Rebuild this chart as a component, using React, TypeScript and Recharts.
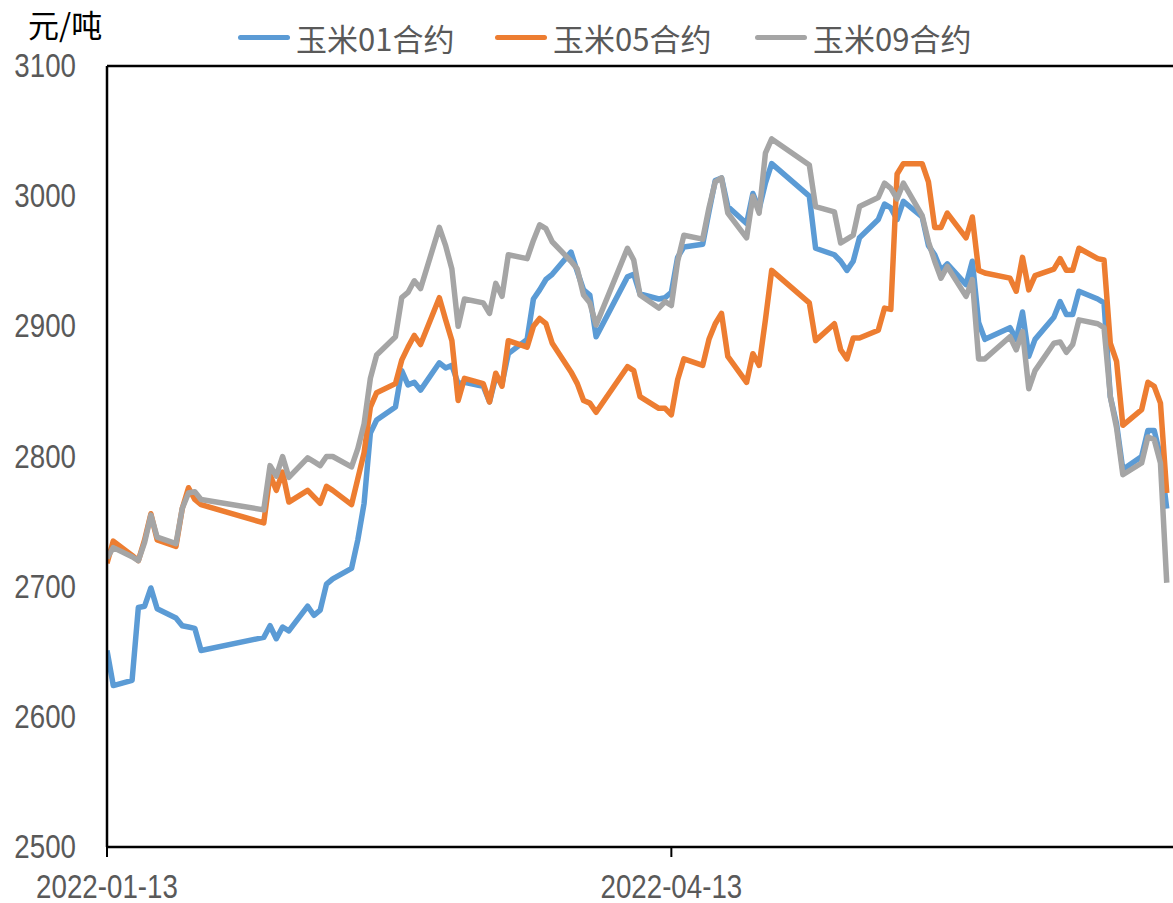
import React from 'react';
import { LineChart, Line, XAxis, YAxis, ReferenceLine } from 'recharts';

// trading days shown on the chart
const DATES = [
  '2022-01-13', '2022-01-14', '2022-01-17', '2022-01-18', '2022-01-19', '2022-01-20', '2022-01-21',
  '2022-01-24', '2022-01-25', '2022-01-26', '2022-01-27', '2022-01-28',
  '2022-02-07', '2022-02-08', '2022-02-09', '2022-02-10', '2022-02-11',
  '2022-02-14', '2022-02-15', '2022-02-16', '2022-02-17', '2022-02-18',
  '2022-02-21', '2022-02-22', '2022-02-23', '2022-02-24', '2022-02-25',
  '2022-02-28', '2022-03-01', '2022-03-02', '2022-03-03', '2022-03-04',
  '2022-03-07', '2022-03-08', '2022-03-09', '2022-03-10', '2022-03-11',
  '2022-03-14', '2022-03-15', '2022-03-16', '2022-03-17', '2022-03-18',
  '2022-03-21', '2022-03-22', '2022-03-23', '2022-03-24', '2022-03-25',
  '2022-03-28', '2022-03-29', '2022-03-30', '2022-03-31', '2022-04-01',
  '2022-04-06', '2022-04-07', '2022-04-08',
  '2022-04-11', '2022-04-12', '2022-04-13', '2022-04-14', '2022-04-15',
  '2022-04-18', '2022-04-19', '2022-04-20', '2022-04-21', '2022-04-22',
  '2022-04-25', '2022-04-26', '2022-04-27', '2022-04-28', '2022-04-29',
  '2022-05-05', '2022-05-06',
  '2022-05-09', '2022-05-10', '2022-05-11', '2022-05-12', '2022-05-13',
  '2022-05-16', '2022-05-17', '2022-05-18', '2022-05-19', '2022-05-20',
  '2022-05-23', '2022-05-24', '2022-05-25', '2022-05-26', '2022-05-27',
  '2022-05-30', '2022-05-31', '2022-06-01', '2022-06-02',
  '2022-06-06', '2022-06-07', '2022-06-08', '2022-06-09', '2022-06-10',
  '2022-06-13', '2022-06-14', '2022-06-15', '2022-06-16', '2022-06-17',
  '2022-06-20', '2022-06-21', '2022-06-22', '2022-06-23', '2022-06-24',
  '2022-06-27', '2022-06-28', '2022-06-29', '2022-06-30', '2022-07-01',
];

const CORN01 = [
  2651, 2624, 2628, 2684, 2685, 2699, 2683,
  2676, 2670, 2669, 2668, 2651,
  2661, 2670, 2660, 2669, 2666,
  2685, 2678, 2682, 2702, 2706,
  2714, 2736, 2764, 2818, 2828,
  2838, 2866, 2855, 2857, 2851,
  2872, 2868, 2870, 2856, 2857,
  2854, 2842, 2861, 2856, 2879,
  2890, 2921, 2928, 2936, 2940,
  2957, 2942, 2928, 2924, 2892,
  2938, 2940, 2925,
  2921, 2922, 2926, 2953, 2961,
  2963, 2988, 3012, 3014, 2992,
  2979, 3002, 2990, 3010, 3025,
  3000, 2960,
  2955, 2950, 2943, 2950, 2968,
  2982, 2994, 2991, 2982, 2996,
  2984, 2962, 2955, 2943, 2948,
  2932, 2950, 2903, 2890,
  2899, 2890, 2911, 2877, 2890,
  2907, 2919, 2909, 2909, 2927,
  2921, 2918, 2846, 2825, 2790,
  2800, 2820, 2820, 2800, 2760,
];

const CORN05 = [
  2718, 2735, 2724, 2720, 2736, 2756, 2736,
  2731, 2760, 2776, 2767, 2763,
  2749, 2786, 2774, 2788, 2765,
  2774, 2769, 2764, 2777, 2774,
  2763, 2783, 2803, 2838, 2849,
  2856, 2874, 2884, 2893, 2886,
  2922, 2905, 2889, 2843, 2860,
  2856, 2842, 2864, 2854, 2889,
  2884, 2900, 2906, 2902, 2887,
  2865, 2856, 2843, 2841, 2834,
  2869, 2866, 2846,
  2837, 2837, 2832, 2859, 2875,
  2870, 2890, 2902, 2910, 2877,
  2857, 2879, 2870, 2905, 2943,
  2918, 2889,
  2902, 2882, 2875, 2891, 2891,
  2897, 2914, 2913, 3017, 3025,
  3025, 3011, 2976, 2976, 2987,
  2968, 2984, 2943, 2941,
  2937, 2927, 2953, 2928, 2939,
  2944, 2952, 2943, 2943, 2960,
  2952, 2951, 2887, 2873, 2824,
  2836, 2857, 2854, 2841, 2772,
];

const CORN09 = [
  2722, 2730, 2723, 2720, 2734, 2755, 2738,
  2733, 2760, 2772, 2773, 2767,
  2759, 2793, 2785, 2800, 2784,
  2799, 2796, 2793, 2800, 2800,
  2792, 2806, 2825, 2860, 2878,
  2892, 2922, 2926, 2935, 2929,
  2976, 2962, 2944, 2900, 2921,
  2918, 2910, 2933, 2923, 2955,
  2952, 2966, 2978, 2975, 2965,
  2950, 2944, 2924, 2918, 2901,
  2960, 2951, 2924,
  2914, 2919, 2916, 2950, 2970,
  2967, 2991, 3011, 3014, 2987,
  2968, 3000, 2987, 3033, 3044,
  3024, 2992,
  2988, 2964, 2967, 2970, 2992,
  2999, 3010, 3006, 2998, 3010,
  2985, 2965, 2950, 2937, 2946,
  2923, 2936, 2875, 2875,
  2892, 2882, 2896, 2852, 2866,
  2887, 2888, 2880, 2886, 2905,
  2902, 2899, 2846, 2822, 2786,
  2795, 2815, 2813, 2795, 2703,
];

const X_TICK_LABELS = ['2022-01-13', '2022-04-13'];
const Y_TICKS = [2500, 2600, 2700, 2800, 2900, 3000, 3100];

const SERIES = [
  { key: 'c01', name: '玉米01合约', color: '#5B9BD5', left: 238 },
  { key: 'c05', name: '玉米05合约', color: '#ED7D31', left: 495 },
  { key: 'c09', name: '玉米09合约', color: '#A5A5A5', left: 755 },
];

const DAY = 86400000;
const START = Date.parse(DATES[0]);
const toDay = (s: string) => Math.round((Date.parse(s) - START) / DAY);

const data = DATES.map((d, i) => ({
  x: toDay(d),
  c01: CORN01[i],
  c05: CORN05[i],
  c09: CORN09[i],
}));

const xTicks = X_TICK_LABELS.map(toDay);
const labelFor = (v: number) => {
  const i = xTicks.indexOf(v);
  return i >= 0 ? X_TICK_LABELS[i] : '';
};

const NUM_FONT = "'Liberation Sans', Arial, sans-serif";
const CJK_FONT = "'Noto Sans CJK SC', 'Noto Sans', sans-serif";
const SQUEEZE = 0.84;

// Excel's narrow digits: draw the labels horizontally squeezed
const YTick = (props: any) => {
  const { x, y, payload } = props;
  return (
    <g transform={`translate(${x},${y}) scale(${SQUEEZE},1)`}>
      <text textAnchor="end" dy={11} fontFamily={NUM_FONT} fontSize={33} fill="#595959">
        {payload.value}
      </text>
    </g>
  );
};

const XTick = (props: any) => {
  const { x, payload } = props;
  return (
    <g transform={`translate(${x},898) scale(${SQUEEZE},1)`}>
      <text textAnchor="middle" fontFamily={NUM_FONT} fontSize={33} fill="#595959">
        {labelFor(payload.value)}
      </text>
    </g>
  );
};

export default function App() {
  return (
    <div style={{ position: 'absolute', left: 0, top: 0, width: 1173, height: 903, background: '#fff', overflow: 'hidden' }}>
      <div style={{ position: 'absolute', left: 28, top: 1, fontFamily: CJK_FONT, fontSize: 31, color: '#000', lineHeight: '46px' }}>元/吨</div>
      {SERIES.map((s) => (
        <div
          key={s.key}
          style={{ position: 'absolute', left: s.left, top: 14, height: 46, display: 'flex', alignItems: 'center', fontFamily: CJK_FONT, fontSize: 31, color: '#595959', zIndex: 2 }}
        >
          <div style={{ width: 52, height: 5, borderRadius: 3, background: s.color, marginRight: 6 }} />
          <span>{s.name}</span>
        </div>
      ))}
      <LineChart width={1173} height={903} data={data} margin={{ top: 66, right: 0, bottom: 0, left: 0 }}>
        <XAxis
          dataKey="x"
          type="number"
          domain={[0, 170]}
          ticks={xTicks}
          height={56}
          axisLine={{ stroke: '#000', strokeWidth: 2.5 }}
          tickLine={{ stroke: '#000', strokeWidth: 2 }}
          tickSize={10}
          tick={<XTick />}
          allowDataOverflow
        />
        <YAxis
          type="number"
          domain={[2500, 3100]}
          ticks={Y_TICKS}
          width={107}
          axisLine={{ stroke: '#000', strokeWidth: 2.5 }}
          tickLine={false}
          tickSize={0}
          tickMargin={31}
          tick={<YTick />}
        />
        <ReferenceLine y={3100} stroke="#000" strokeWidth={2.5} />
        {SERIES.map((s) => (
          <Line
            key={s.key}
            type="linear"
            dataKey={s.key}
            name={s.name}
            stroke={s.color}
            strokeWidth={5.5}
            strokeLinejoin="round"
            dot={false}
            isAnimationActive={false}
          />
        ))}
      </LineChart>
    </div>
  );
}
